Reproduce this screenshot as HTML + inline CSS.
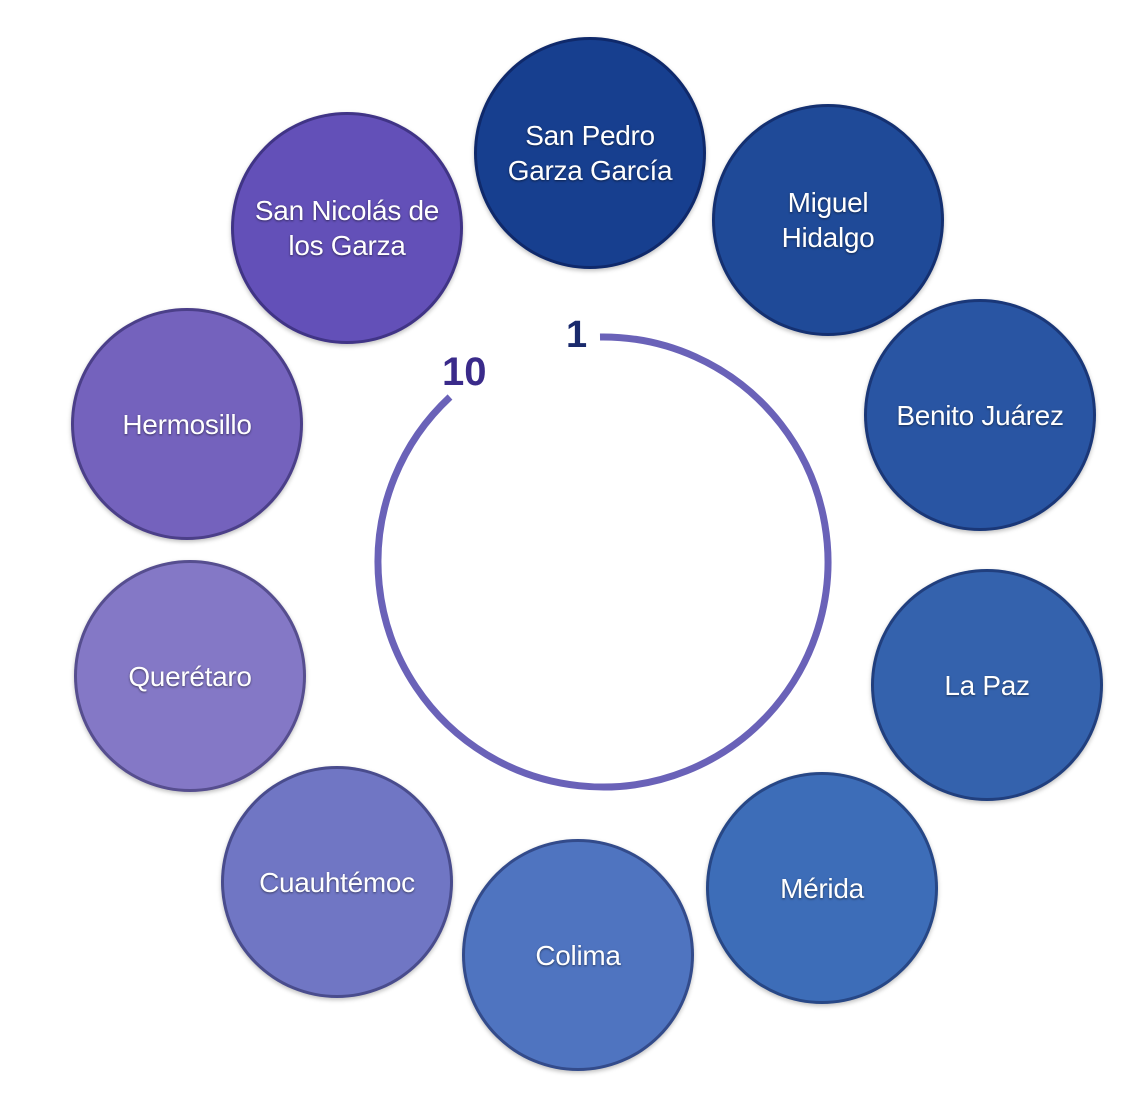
<!DOCTYPE html>
<html><head><meta charset="utf-8"><style>
html,body{margin:0;padding:0;background:#fff;}
body{width:1139px;height:1094px;position:relative;overflow:hidden;font-family:"Liberation Sans",sans-serif;}
.c{position:absolute;width:232px;height:232px;border-radius:50%;display:flex;align-items:center;justify-content:center;text-align:center;color:#fff;font-size:28px;line-height:35px;box-sizing:border-box;border:3px solid rgba(0,0,40,0.35);text-shadow:0 1px 2px rgba(0,0,0,0.5);box-shadow:0 2px 4px rgba(0,0,0,0.25);letter-spacing:-0.3px;}
.n{position:absolute;font-weight:bold;}
</style></head><body>
<svg width="1139" height="1094" style="position:absolute;left:0;top:0">
<path d="M 600 337 A 225 225 0 1 1 450 397" fill="none" stroke="#6a62b8" stroke-width="7"/>
</svg>
<div class="n" style="left:566px;top:314px;color:#1a2a6c;font-size:38px">1</div>
<div class="n" style="left:442px;top:350px;color:#3a2a8a;font-size:40px">10</div>
<div class="c" style="left:474px;top:37px;background:#173f8f">San Pedro<br>Garza García</div>
<div class="c" style="left:712px;top:104px;background:#1f4a98">Miguel<br>Hidalgo</div>
<div class="c" style="left:864px;top:299px;background:#2955a3">Benito Juárez</div>
<div class="c" style="left:871px;top:569px;background:#3462ad">La Paz</div>
<div class="c" style="left:706px;top:772px;background:#3d6db8">Mérida</div>
<div class="c" style="left:462px;top:839px;background:#4f74c0">Colima</div>
<div class="c" style="left:221px;top:766px;background:#7076c4">Cuauhtémoc</div>
<div class="c" style="left:74px;top:560px;background:#8478c6">Querétaro</div>
<div class="c" style="left:71px;top:308px;background:#7462bd">Hermosillo</div>
<div class="c" style="left:231px;top:112px;background:#6350b8">San Nicolás de<br>los Garza</div>
</body></html>
